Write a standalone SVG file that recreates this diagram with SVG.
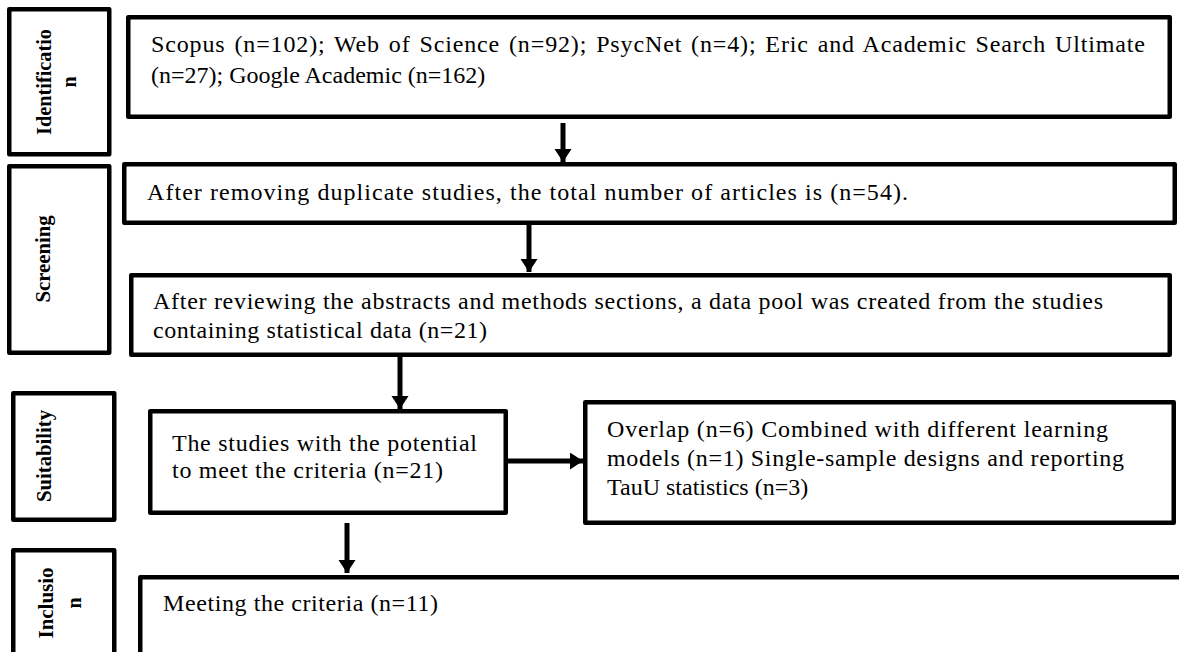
<svg xmlns="http://www.w3.org/2000/svg" width="1179" height="652" viewBox="0 0 1179 652">
<defs>
<style>
.box{fill:#fff;stroke:#000;stroke-width:4.5;stroke-linejoin:round}
.t{font-family:"Liberation Serif","Times New Roman",serif;font-size:24px;fill:#000}
.lbl{font-family:"Liberation Serif","Times New Roman",serif;font-size:20px;font-weight:bold;fill:#000;text-anchor:middle}
.con{stroke:#000;stroke-width:5;fill:none}
</style>
<marker id="ah" markerUnits="userSpaceOnUse" markerWidth="18" markerHeight="18" refX="13" refY="8.5" orient="auto">
<path d="M0,0 L13,8.5 L0,17 Z" fill="#000"/>
</marker>
</defs>
<rect width="1179" height="652" fill="#fff"/>

<g id="stage-identification">
<rect class="box" x="9.25" y="9.25" width="100" height="145"/>
<text class="lbl" transform="translate(51,82) rotate(-90)" textLength="106" lengthAdjust="spacingAndGlyphs">Identificatio</text>
<text class="lbl" transform="translate(76,82) rotate(-90)">n</text>
</g>
<g id="stage-screening">
<rect class="box" x="9.25" y="166.25" width="100" height="186.5"/>
<text class="lbl" transform="translate(50,259) rotate(-90)" textLength="87" lengthAdjust="spacingAndGlyphs">Screening</text>
</g>
<g id="stage-suitability">
<rect class="box" x="13.25" y="393.25" width="101" height="126.5"/>
<text class="lbl" transform="translate(51,456) rotate(-90)" textLength="92" lengthAdjust="spacingAndGlyphs">Suitability</text>
</g>
<g id="stage-inclusion">
<rect class="box" x="13.25" y="550.25" width="101" height="120"/>
<text class="lbl" transform="translate(53,603) rotate(-90)" textLength="71" lengthAdjust="spacingAndGlyphs">Inclusio</text>
<text class="lbl" transform="translate(81,603) rotate(-90)">n</text>
</g>

<g id="box-databases">
<rect class="box" x="128.25" y="17.25" width="1041.5" height="99.5"/>
<text class="t" x="151" y="52" textLength="994" lengthAdjust="spacing" word-spacing="2">Scopus (n=102); Web of Science (n=92); PsycNet (n=4); Eric and Academic Search Ultimate</text>
<text class="t" x="151" y="83">(n=27); Google Academic (n=162)</text>
</g>
<g id="box-duplicates">
<rect class="box" x="124.25" y="164.25" width="1050.5" height="58.5"/>
<text class="t" x="147" y="200" textLength="761" lengthAdjust="spacing">After removing duplicate studies, the total number of articles is (n=54).</text>
</g>
<g id="box-datapool">
<rect class="box" x="131.25" y="275.25" width="1038.5" height="79.5"/>
<text class="t" x="153" y="309" textLength="950" lengthAdjust="spacing">After reviewing the abstracts and methods sections, a data pool was created from the studies</text>
<text class="t" x="153" y="338" textLength="334" lengthAdjust="spacing">containing statistical data (n=21)</text>
</g>
<g id="box-potential">
<rect class="box" x="150.25" y="411.25" width="355.5" height="101.5"/>
<text class="t" x="172" y="451" textLength="305" lengthAdjust="spacing">The studies with the potential</text>
<text class="t" x="172" y="478" textLength="271" lengthAdjust="spacing">to meet the criteria (n=21)</text>
</g>
<g id="box-excluded">
<rect class="box" x="585.25" y="402.25" width="588.5" height="120.5"/>
<text class="t" x="607" y="437" textLength="501" lengthAdjust="spacing">Overlap (n=6) Combined with different learning</text>
<text class="t" x="607" y="466" textLength="517" lengthAdjust="spacing">models (n=1) Single-sample designs and reporting</text>
<text class="t" x="607" y="495">TauU statistics (n=3)</text>
</g>
<g id="box-included">
<rect class="box" x="140.25" y="577.25" width="1060" height="120"/>
<text class="t" x="163" y="611" textLength="275" lengthAdjust="spacing">Meeting the criteria (n=11)</text>
</g>

<g id="connectors">
<line class="con" x1="563" y1="123" x2="563" y2="162" marker-end="url(#ah)"/>
<line class="con" x1="529" y1="225" x2="529" y2="272" marker-end="url(#ah)"/>
<line class="con" x1="400" y1="357" x2="400" y2="409" marker-end="url(#ah)"/>
<line class="con" x1="508" y1="461" x2="583" y2="461" marker-end="url(#ah)"/>
<line class="con" x1="347" y1="523" x2="347" y2="573" marker-end="url(#ah)"/>
</g>
</svg>
